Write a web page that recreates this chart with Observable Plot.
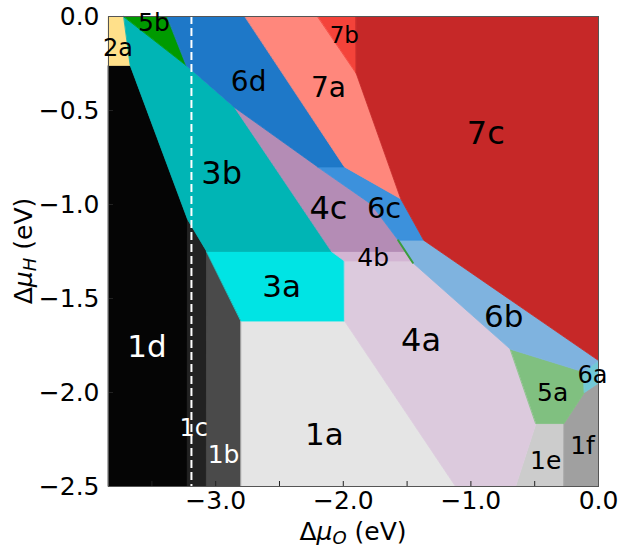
<!DOCTYPE html>
<html><head><meta charset="utf-8">
<script src="https://cdn.jsdelivr.net/npm/d3@7"></script>
<script src="https://cdn.jsdelivr.net/npm/@observablehq/plot@0.6"></script>
<style>body{margin:0;background:#fff} svg{display:block}</style>
</head><body><div id="chart"></div>
<script>
// axis data
const xDomain = [-3.84, 0];
const yDomain = [-2.5, 0];
const xLabelTicks = [-3, -2, -1, 0];
const xTickMarks = [-3.5, -3, -2.5, -2, -1.5, -1, -0.5, 0];
const yTicks = [0, -0.5, -1, -1.5, -2, -2.5];
const dashedX = -3.19;

// phase regions: vertices (Δμ_O, Δμ_H) in eV
const r1d = [[-3.84,-0.26],[-3.67,-0.26],[-3.22,-1.08],[-3.22,-2.5],[-3.84,-2.5]];
const r1c = [[-3.22,-1.08],[-3.07,-1.25],[-3.07,-2.5],[-3.22,-2.5]];
const r1b = [[-3.07,-1.25],[-2.80,-1.62],[-2.80,-2.5],[-3.07,-2.5]];
const r1a = [[-2.80,-1.62],[-1.99,-1.62],[-1.12,-2.5],[-2.80,-2.5]];
const r1e = [[-0.49,-2.165],[-0.27,-2.165],[-0.27,-2.5],[-0.65,-2.5]];
const r1f = [[-0.27,-2.165],[-0.11,-2.0],[0,-1.95],[0,-2.5],[-0.27,-2.5]];
const r2a = [[-3.84,0],[-3.72,0],[-3.67,-0.26],[-3.84,-0.26]];
const r3a = [[-3.07,-1.25],[-2.09,-1.25],[-1.99,-1.30],[-1.99,-1.62],[-2.80,-1.62]];
const r3b = [[-3.72,0],[-3.23,-0.26],[-2.85,-0.485],[-2.09,-1.25],[-3.07,-1.25],[-3.22,-1.08],[-3.67,-0.26]];
const r4a = [[-1.99,-1.30],[-1.46,-1.30],[-0.69,-1.77],[-0.49,-2.165],[-0.65,-2.5],[-1.12,-2.5],[-1.99,-1.62]];
const r4b = [[-2.09,-1.25],[-1.52,-1.25],[-1.46,-1.30],[-1.99,-1.30]];
const r4c = [[-2.85,-0.485],[-2.20,-0.80],[-1.78,-1.0],[-1.57,-1.19],[-1.52,-1.25],[-2.09,-1.25]];
const r5a = [[-0.69,-1.77],[-0.12,-1.89],[-0.11,-2.0],[-0.27,-2.165],[-0.49,-2.165]];
const r5b = [[-3.72,0],[-3.38,0],[-3.23,-0.26]];
const r6a = [[-0.12,-1.89],[0,-1.83],[0,-1.95],[-0.11,-2.0]];
const r6b = [[-1.57,-1.19],[-1.37,-1.19],[0,-1.83],[-0.12,-1.89],[-0.69,-1.77],[-1.455,-1.31]];
const r6c = [[-2.20,-0.80],[-1.99,-0.80],[-1.55,-0.97],[-1.37,-1.19],[-1.57,-1.19],[-1.78,-1.0]];
const r6d = [[-3.38,0],[-2.77,0],[-1.99,-0.80],[-2.20,-0.80],[-2.85,-0.485],[-3.23,-0.26]];
const r7a = [[-2.77,0],[-2.20,0],[-1.90,-0.30],[-1.55,-0.97],[-1.99,-0.80]];
const r7b = [[-2.20,0],[-1.90,0],[-1.90,-0.30]];
const r7c = [[-1.90,0],[0,0],[0,-1.83],[-1.37,-1.19],[-1.55,-0.97],[-1.90,-0.30]];
const sliver = [[-1.57,-1.19],[-1.455,-1.31]];

// label names and anchor points (eV)
const labelNames = ["2a","5b","6d","7a","7b","7c","3b","4c","6c","4b","3a","1d","1c","1b","1a","4a","6b","5a","6a","1e","1f"];
const labelX = [-3.766,-3.484,-2.742,-2.117,-1.992,-0.883,-2.953,-2.117,-1.680,-1.766,-2.484,-3.539,-3.172,-2.938,-2.148,-1.391,-0.742,-0.359,-0.047,-0.414,-0.125];
const labelY = [-0.170,-0.037,-0.351,-0.378,-0.101,-0.622,-0.835,-1.021,-1.021,-1.282,-1.441,-1.761,-2.191,-2.335,-2.229,-1.723,-1.601,-2.0,-1.910,-2.362,-2.282];

// styles
const palette = {
  "1a":"#e5e5e5","1b":"#4a4a4a","1c":"#222222","1d":"#050505","1e":"#cccccc","1f":"#a0a0a0",
  "2a":"#ffe08a","3a":"#00e4e4","3b":"#00b5b5","4a":"#dccadd","4b":"#d3b5d3","4c":"#b48cb5",
  "5a":"#80c080","5b":"#009a00","6a":"#72c8d6","6b":"#7fb3df","6c":"#3c91dc","6d":"#1e78c8",
  "7a":"#ff877c","7b":"#f4433a","7c":"#c62828"
};
const regions = [
  ["1d",r1d],["1c",r1c],["1b",r1b],["1a",r1a],["1e",r1e],["1f",r1f],["2a",r2a],
  ["3a",r3a],["3b",r3b],["4a",r4a],["4b",r4b],["4c",r4c],["5a",r5a],["5b",r5b],
  ["6a",r6a],["6b",r6b],["6c",r6c],["6d",r6d],["7a",r7a],["7b",r7b],["7c",r7c]
];
const whiteLabels = new Set(["1d","1c","1b"]);
const labelSize = {
  "3b":32,"4c":32,"4a":32,"1d":31,"7c":32,"1a":31,"3a":31,"6b":31,"6c":29,"6d":28,"7a":28,
  "1c":24,"1b":25,"5a":25,"1e":25,"1f":25,"6a":24,"4b":25,"2a":24,"5b":25,"7b":23
};

const labels = labelNames.map((n,i)=>({n, x:labelX[i], y:labelY[i]}));

const marks = regions.map(([n,pts]) => Plot.line(pts, {
  x: d=>d[0], y: d=>d[1], curve: "linear-closed",
  fill: palette[n], stroke: palette[n], strokeWidth: 0.8
}));
marks.push(Plot.line(sliver, {x:d=>d[0], y:d=>d[1], stroke:"#3c9c3c", strokeWidth:2}));
marks.push(Plot.ruleX([dashedX], {stroke:"white", strokeWidth:2, strokeDasharray:"8,4"}));
marks.push(Plot.tickX(xTickMarks, {x:d=>d, insetTop:465, stroke:"#222", strokeWidth:1}));
marks.push(Plot.tickY(yTicks, {y:d=>d, insetRight:485, stroke:"#222", strokeWidth:1}));
marks.push(Plot.frame({stroke:"#555", strokeWidth:1}));
marks.push(Plot.axisX({ticks:xLabelTicks, tickSize:0, tickPadding:5, tickFormat:d3.format(".1f"), fontSize:25, label:null}));
marks.push(Plot.axisY({ticks:yTicks, tickSize:0, tickPadding:9, tickFormat:d3.format(".1f"), fontSize:25, label:null}));
for (const [n] of regions) {
  const d = labels.filter(l => l.n === n);
  marks.push(Plot.text(d, {x:"x", y:"y", text:"n", fontSize: labelSize[n],
    fill: whiteLabels.has(n) ? "white" : "black"}));
}

const chart = Plot.plot({
  width: 621, height: 550,
  marginLeft: 108, marginRight: 23, marginTop: 16, marginBottom: 64,
  x: {domain: xDomain},
  y: {domain: yDomain},
  style: {fontFamily: "DejaVu Sans", background: "white", color: "black"},
  marks
});
document.getElementById("chart").appendChild(chart);

// axis titles with subscripts
const svg = d3.select(chart);
const xt = svg.append("text").attr("x", 353).attr("y", 540).attr("text-anchor","middle")
  .attr("font-family","DejaVu Sans").attr("font-size",25).attr("fill","black");
xt.append("tspan").text("Δ");
xt.append("tspan").attr("font-style","italic").text("μ");
xt.append("tspan").attr("font-style","italic").attr("font-size",18).attr("dy",4).text("O");
xt.append("tspan").attr("dy",-4).text(" (eV)");
const yt = svg.append("text").attr("transform","translate(32,251) rotate(-90)").attr("text-anchor","middle")
  .attr("font-family","DejaVu Sans").attr("font-size",25).attr("fill","black");
yt.append("tspan").text("Δ");
yt.append("tspan").attr("font-style","italic").text("μ");
yt.append("tspan").attr("font-style","italic").attr("font-size",18).attr("dy",4).text("H");
yt.append("tspan").attr("dy",-4).text(" (eV)");
</script></body></html>
